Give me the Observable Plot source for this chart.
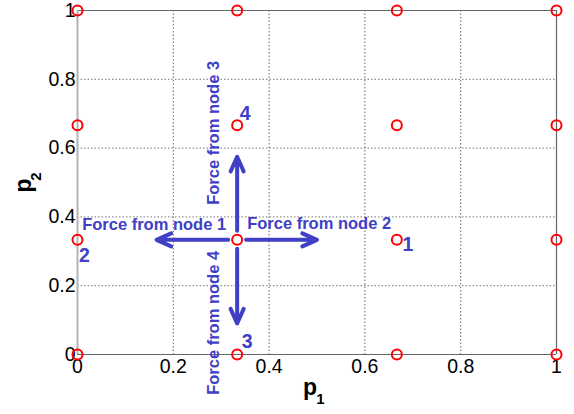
<!DOCTYPE html>
<html>
<head>
<meta charset="utf-8">
<script src="https://cdn.jsdelivr.net/npm/d3@7"></script>
<script src="https://cdn.jsdelivr.net/npm/@observablehq/plot@0.6"></script>
<style>
  html, body { margin: 0; padding: 0; background: #fff; }
  #chart { width: 574px; height: 414px; }
</style>
</head>
<body>
<div id="chart"></div>
<script>
// ---- data ----
const ticks = [0, 0.2, 0.4, 0.6, 0.8, 1];
const nodeP1 = [0, 0.3333, 0.6667, 1, 0, 0.3333, 0.6667, 1, 0, 0.3333, 0.6667, 1, 0, 0.3333, 0.6667, 1];
const nodeP2 = [0, 0, 0, 0, 0.3333, 0.3333, 0.3333, 0.3333, 0.6667, 0.6667, 0.6667, 0.6667, 1, 1, 1, 1];
const centerP1 = 0.3333;
const centerP2 = 0.3333;
const forceNames = ["Force from node 1", "Force from node 2", "Force from node 3", "Force from node 4"];
const forceTipP1 = [0.165, 0.5, 0.3333, 0.3333];
const forceTipP2 = [0.3333, 0.3333, 0.575, 0.09];
const neighborNames = ["1", "2", "3", "4"];
const neighborP1 = [0.6667, 0, 0.3333, 0.3333];
const neighborP2 = [0.3333, 0.3333, 0, 0.6667];

// ---- styles ----
const blue = "#4040c6";
const forceLabelStyle = [
  {dx: -83, dy: -15, rotate: 0},
  {dx: 82, dy: -16, rotate: 0},
  {dx: -23, dy: -107, rotate: -90},
  {dx: -23, dy: 83, rotate: -90}
];
const numberStyle = [
  {dx: 11, dy: 5},
  {dx: 7, dy: 16},
  {dx: 10, dy: -13},
  {dx: 8, dy: -11}
];

const nodes = nodeP1.map((p1, i) => ({p1, p2: nodeP2[i]}));
const forces = forceNames.map((name, i) => ({name, x1: centerP1, y1: centerP2, x2: forceTipP1[i], y2: forceTipP2[i]}));
const neighbors = neighborNames.map((name, i) => ({name, p1: neighborP1[i], p2: neighborP2[i]}));

const marks = [
  Plot.gridX(ticks, {stroke: "#666", strokeOpacity: 1, strokeDasharray: "1.5,2"}),
  Plot.gridY(ticks, {stroke: "#777", strokeOpacity: 1, strokeDasharray: "1.5,2"}),
  Plot.ruleX([1], {stroke: "#666", strokeWidth: 1.2}),
  Plot.ruleY([1], {stroke: "#666", strokeWidth: 1.2}),
  Plot.ruleY([0], {stroke: "#666", strokeWidth: 1.2}),
  Plot.ruleX([0], {stroke: "#b4b4b4", strokeWidth: 2}),
  Plot.axisX(ticks, {tickSize: 0, tickPadding: 5, fontSize: 19.5, tickFormat: d => String(d), label: null}),
  Plot.axisY(ticks, {tickSize: 0, tickPadding: 2, fontSize: 19.5, tickFormat: d => String(d), label: null}),
  Plot.arrow(forces, {x1: "x1", y1: "y1", x2: "x2", y2: "y2", stroke: blue, strokeWidth: 4, headLength: 6, headAngle: 48, insetStart: 9})
];

forces.forEach((f, i) => {
  const s = forceLabelStyle[i];
  marks.push(Plot.text([f], {x: "x1", y: "y1", text: "name", fill: blue, fontWeight: "bold", fontSize: 16.5,
    dx: s.dx, dy: s.dy, rotate: s.rotate}));
});
neighbors.forEach((n, i) => {
  const s = numberStyle[i];
  marks.push(Plot.text([n], {x: "p1", y: "p2", text: "name", fill: blue, fontWeight: "bold", fontSize: 19.5,
    dx: s.dx, dy: s.dy}));
});

marks.push(Plot.dot(nodes, {x: "p1", y: "p2", r: 5, stroke: "red", strokeWidth: 2, fill: "none"}));

// axis labels p1 / p2
marks.push(Plot.text(["p"], {x: [0.5], y: [0], text: d => d, fontWeight: "bold", fontSize: 23, dx: -7, dy: 33}));
marks.push(Plot.text(["1"], {x: [0.5], y: [0], text: d => d, fontWeight: "bold", fontSize: 15, dx: 3.5, dy: 45}));
marks.push(Plot.text(["p"], {x: [0], y: [0.5], text: d => d, fontWeight: "bold", fontSize: 23, rotate: -90, dx: -54, dy: 3}));
marks.push(Plot.text(["2"], {x: [0], y: [0.5], text: d => d, fontWeight: "bold", fontSize: 15, rotate: -90, dx: -41, dy: -6}));

const chart = Plot.plot({
  width: 574,
  height: 414,
  marginLeft: 77,
  marginRight: 18,
  marginTop: 10,
  marginBottom: 60,
  x: {domain: [0, 1]},
  y: {domain: [0, 1]},
  style: {fontFamily: "'Liberation Sans', Arial, sans-serif", fontSize: "19px", color: "#000", background: "#fff", overflow: "visible"},
  marks
});
document.getElementById("chart").appendChild(chart);
</script>
</body>
</html>
